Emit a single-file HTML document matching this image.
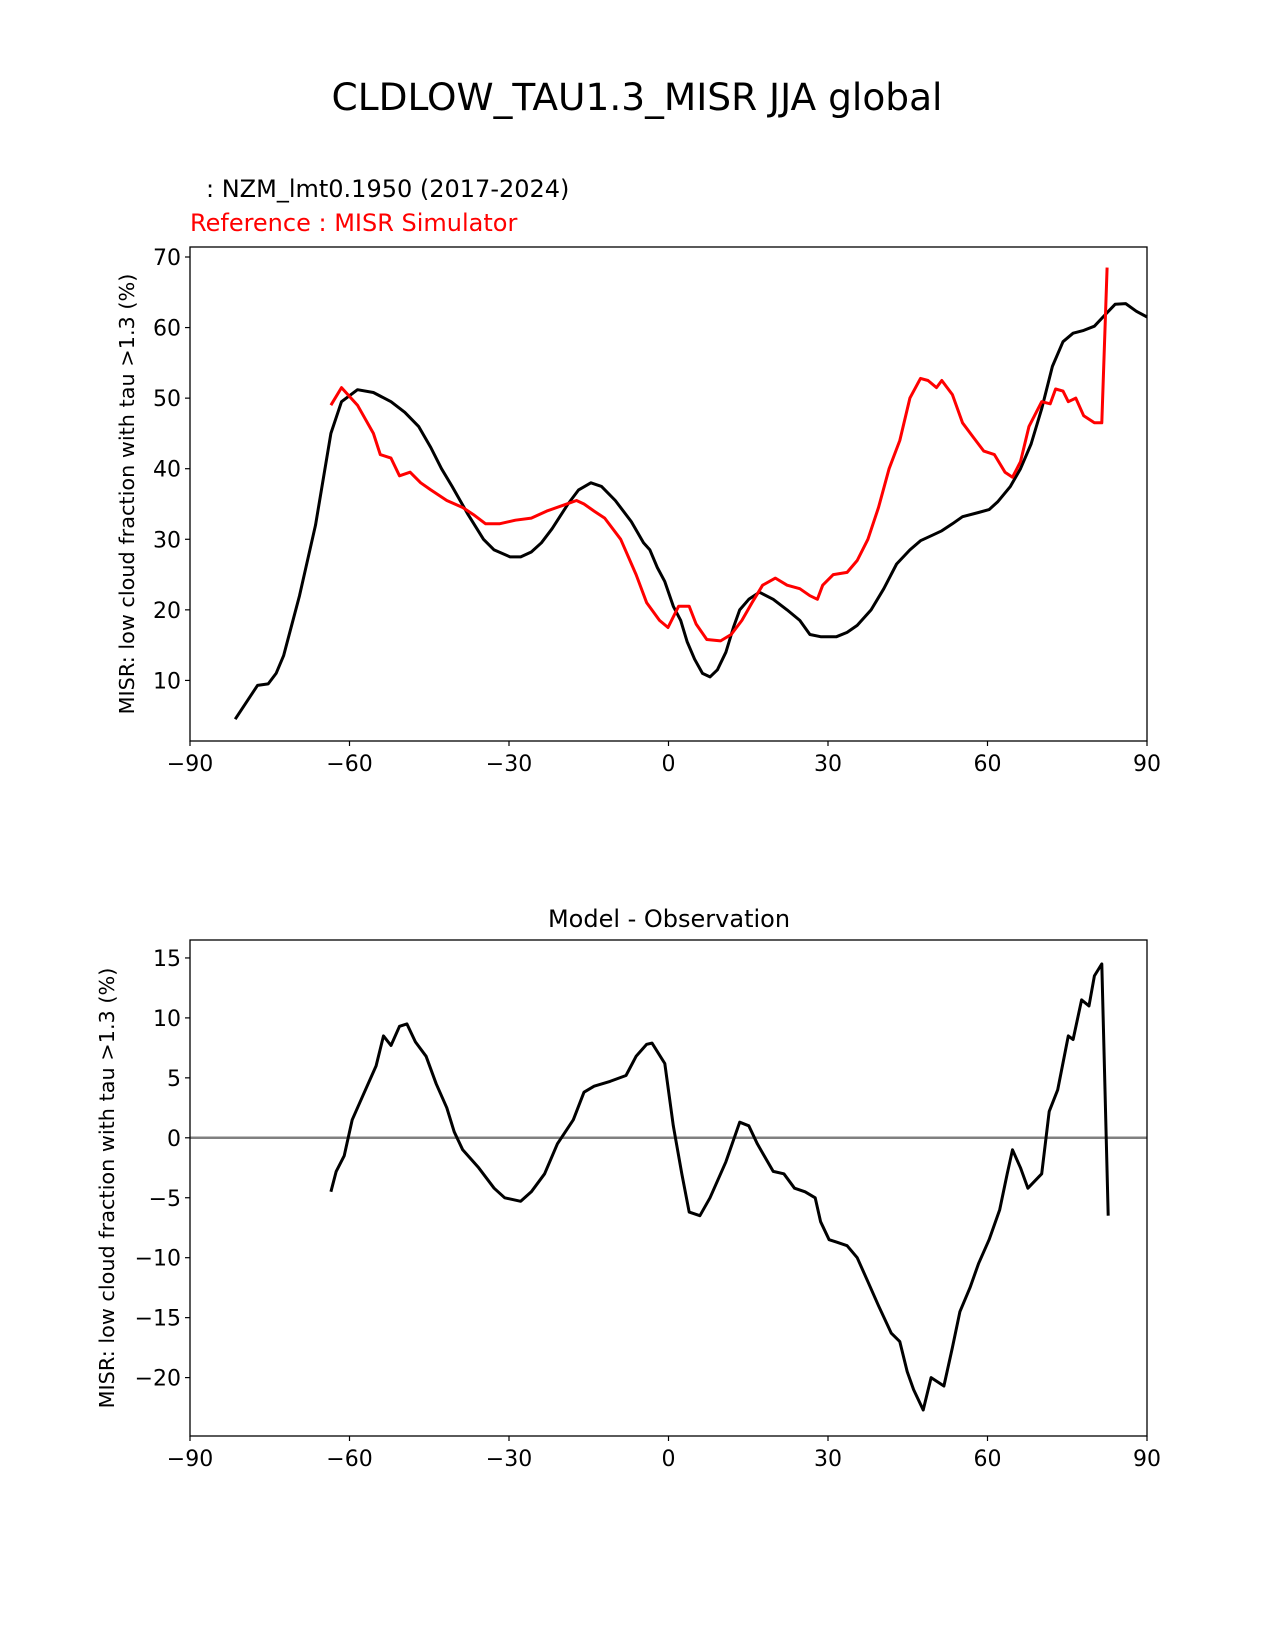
<!DOCTYPE html>
<html><head><meta charset="utf-8"><style>
body{margin:0;background:#fff}
svg{display:block;font-family:"DejaVu Sans","Liberation Sans",sans-serif}
</style></head><body>
<svg id="fig" width="1275" height="1650" viewBox="0 0 1275 1650">
<text x="637" y="110" text-anchor="middle" font-size="37.5">CLDLOW_TAU1.3_MISR JJA global</text>
<text x="206" y="197" font-size="24">: NZM_lmt0.1950 (2017-2024)</text>
<text x="190" y="231" font-size="24" fill="red">Reference : MISR Simulator</text>
<text x="669" y="927" text-anchor="middle" font-size="24">Model - Observation</text>
<text transform="translate(134,494) rotate(-90)" text-anchor="middle" font-size="20.8">MISR: low cloud fraction with tau &gt;1.3 (%)</text>
<text transform="translate(114,1188) rotate(-90)" text-anchor="middle" font-size="20.8">MISR: low cloud fraction with tau &gt;1.3 (%)</text>
<g id="top"></g><g id="bot"></g>
</svg>
<script>
const xTicks=[-90,-60,-30,0,30,60,90];
const xTickLabels=["\u221290","\u221260","\u221230","0","30","60","90"];
const topYTicks=[10,20,30,40,50,60,70];
const botYTicks=[-20,-15,-10,-5,0,5,10,15];
const botYLabels=["\u221220","\u221215","\u221210","\u22125","0","5","10","15"];
const modelLat=[-81.5,-77.3,-75.3,-73.8,-72.4,-69.4,-66.4,-63.5,-61.5,-58.5,-55.5,-52.2,-49.6,-47,-44.7,-42.7,-40.7,-37.7,-34.8,-32.8,-29.8,-27.8,-25.8,-23.9,-21.9,-18.9,-16.9,-14.6,-12.6,-10,-7,-4.7,-3.5,-2.1,-0.7,0.9,2.3,3.5,4.9,6.4,7.8,9.2,10.8,12.2,13.4,15.1,17.1,19.7,22.3,24.7,26.6,28.6,31.6,33.6,35.5,38.1,40.5,42.9,45.4,47.4,49.4,51.4,53.4,55.3,58.3,60.3,61.9,64.3,66.2,68.2,70.2,72.2,74.2,76.1,78.1,80.1,82.1,84,86,88,90];
const modelVal=[4.5,9.3,9.5,11,13.5,22,32,45,49.5,51.2,50.8,49.5,48,46,43,40,37.5,33.5,30,28.5,27.5,27.5,28.2,29.5,31.5,35,37,38,37.5,35.5,32.5,29.5,28.5,26,24,20.5,18.5,15.5,13,11,10.5,11.5,14,17.5,20,21.5,22.5,21.5,20,18.5,16.5,16.2,16.2,16.8,17.8,20,23,26.5,28.5,29.8,30.5,31.2,32.2,33.2,33.8,34.2,35.3,37.5,40,43.5,48.5,54.5,58,59.2,59.6,60.2,61.8,63.3,63.4,62.3,61.5];
const refLat=[-63.5,-61.5,-58.5,-55.5,-54.2,-52.2,-50.6,-48.6,-46.6,-44.7,-41.7,-38.7,-36.7,-34.4,-31.8,-28.8,-25.8,-22.9,-19.9,-17.3,-15.9,-14,-12,-9,-6.1,-4.1,-1.7,-0.1,1.9,3.9,5.2,7.2,9.8,11.8,13.8,15.7,17.7,20.1,22.3,24.7,26.6,28,29,31,33.6,35.5,37.5,39.5,41.5,43.5,45.4,47.4,48.8,50.4,51.4,53.4,55.3,57.3,59.3,61.3,63.3,64.7,66.2,67.8,70.2,71.8,72.8,74.2,75.2,76.6,78.1,80.1,81.5,82.5];
const refVal=[49,51.5,49,45,42,41.5,39,39.5,38,37,35.5,34.5,33.5,32.2,32.2,32.7,33,34,34.8,35.5,35,34,33,30,25,21,18.5,17.5,20.5,20.5,18,15.8,15.6,16.5,18.5,21,23.5,24.5,23.5,23,22,21.5,23.5,25,25.3,27,30,34.5,40,44,50,52.8,52.5,51.5,52.5,50.5,46.5,44.5,42.5,42,39.5,38.8,41,46,49.5,49.2,51.3,51,49.5,50,47.5,46.5,46.5,68.5];
const diffLat=[-63.5,-62.5,-61,-59.5,-57.5,-55,-53.6,-52.2,-50.6,-49.2,-47.6,-45.6,-43.7,-41.7,-40.3,-38.7,-35.7,-32.8,-30.8,-27.8,-25.8,-23.3,-20.9,-17.9,-15.9,-14,-11,-8,-6.1,-4.1,-3.1,-0.7,0.9,2.5,3.9,5.9,7.8,10.8,13.4,15.1,16.7,19.7,21.7,23.7,25.7,27.6,28.6,30.2,31.6,33.6,35.5,37.5,39.5,41.9,43.5,44.9,46.1,47.9,49.4,51.8,53.4,54.8,56.7,58.3,60.3,62.3,63.7,64.7,66.2,67.6,70.2,71.6,73.2,75.2,76.1,77.7,79.1,80.1,81.5,82.7];
const diffVal=[-4.5,-2.8,-1.5,1.5,3.5,6,8.5,7.7,9.3,9.5,8,6.8,4.5,2.5,0.5,-1,-2.5,-4.2,-5,-5.3,-4.5,-3,-0.5,1.5,3.8,4.3,4.7,5.2,6.8,7.8,7.9,6.2,1,-3,-6.2,-6.5,-5,-2,1.3,1,-0.5,-2.8,-3,-4.2,-4.5,-5,-7,-8.5,-8.7,-9,-10,-12,-14,-16.3,-17,-19.5,-21,-22.7,-20,-20.7,-17.5,-14.5,-12.5,-10.5,-8.5,-6,-3,-1,-2.5,-4.2,-3,2.2,4,8.5,8.2,11.5,11,13.5,14.5,-6.5];

const NS="http://www.w3.org/2000/svg";
function mk(tag,attrs,parent){const e=document.createElementNS(NS,tag);for(const k in attrs)e.setAttribute(k,attrs[k]);parent.appendChild(e);return e;}
const L=190,R=1147;
function xs(v){return L+(v+90)/180*(R-L);}
function drawAxes(g,top,bottom,ys,yTicks,yLabels,prefix){
  yTicks.forEach((t,i)=>{
    const y=ys(t);
    const tk=mk('line',{x1:L-5,x2:L,y1:y,y2:y,stroke:'#000','stroke-width':1.2},g);
    
    
    const tx=mk('text',{x:L-9,y:y+8,'text-anchor':'end','font-size':22},g);
    tx.textContent=yLabels[i];
    
    
  });
  xTicks.forEach((t,i)=>{
    const x=xs(t);
    const tk=mk('line',{x1:x,x2:x,y1:bottom,y2:bottom+5,stroke:'#000','stroke-width':1.2},g);
    
    
    const tx=mk('text',{x:x,y:bottom+30,'text-anchor':'middle','font-size':22},g);
    tx.textContent=xTickLabels[i];
    
    
  });
}
function frame(g,top,bottom,prefix){
  const r=mk('rect',{x:L,y:top,width:R-L,height:bottom-top,fill:'none',stroke:'#000','stroke-width':1.3},g);
  
  
}
function line(g,lat,val,ys,color,name){
  const d=lat.map((a,i)=>(i?'L':'M')+xs(a).toFixed(1)+','+ys(val[i]).toFixed(1)).join(' ');
  const p=mk('path',{d:d,fill:'none',stroke:color,'stroke-width':3,'stroke-linejoin':'round'},g);
  
  
}
const gt=document.getElementById('top');
const ysT=v=>257+(70-v)*7.057;
drawAxes(gt,247,741,ysT,topYTicks,topYTicks.map(String),'top');
line(gt,modelLat,modelVal,ysT,'#000','model-line');
line(gt,refLat,refVal,ysT,'red','reference-line');
frame(gt,247,741,'top');
const gb=document.getElementById('bot');
const ysB=v=>1137.8-v*11.99;
drawAxes(gb,940,1436,ysB,botYTicks,botYLabels,'bottom');
const z=mk('line',{x1:L,x2:R,y1:ysB(0),y2:ysB(0),stroke:'#808080','stroke-width':2.5},gb);


line(gb,diffLat,diffVal,ysB,'#000','difference-line');
frame(gb,940,1436,'bottom');
</script>
</body></html>
